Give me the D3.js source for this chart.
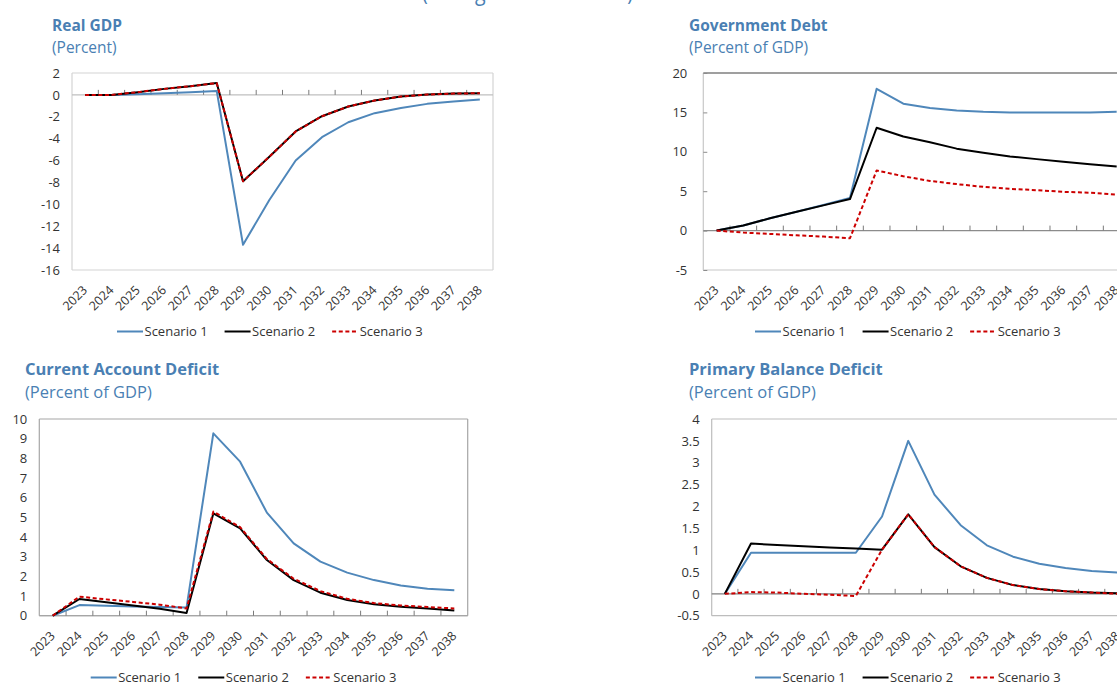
<!DOCTYPE html>
<html>
<head>
<meta charset="utf-8">
<script src="https://cdn.jsdelivr.net/npm/d3@7/dist/d3.min.js"></script>
<style>
  html, body { margin: 0; padding: 0; background: #fff; overflow: hidden; }
  svg { display: block; font-family: "Open Sans", "Noto Sans", sans-serif; }
</style>
</head>
<body>
<svg id="chart" width="1117" height="685"></svg>
<script>
// ---------------- DATA ----------------
const years = ["2023","2024","2025","2026","2027","2028","2029","2030","2031","2032","2033","2034","2035","2036","2037","2038"];
const seriesNames = ["Scenario 1", "Scenario 2", "Scenario 3"];
const pageTitle = "(Change from baseline)";

const gdpTitle = "Real GDP";
const gdpUnit = "(Percent)";
const gdpTicks = [-16, -14, -12, -10, -8, -6, -4, -2, 0, 2];
const gdpS1 = [0, 0, 0.05, 0.15, 0.25, 0.36, -13.7, -9.6, -6.0, -3.86, -2.5, -1.67, -1.2, -0.82, -0.6, -0.42];
const gdpS2 = [0, 0, 0.25, 0.55, 0.8, 1.08, -7.9, -5.65, -3.34, -1.95, -1.06, -0.52, -0.15, 0.03, 0.12, 0.15];
const gdpS3 = [0, 0, 0.25, 0.55, 0.8, 1.08, -7.9, -5.65, -3.34, -1.95, -1.06, -0.52, -0.15, 0.03, 0.12, 0.15];

const debtTitle = "Government Debt";
const debtUnit = "(Percent of GDP)";
const debtTicks = [-5, 0, 5, 10, 15, 20];
const debtS1 = [0, 0.64, 1.57, 2.4, 3.25, 4.15, 18.0, 16.1, 15.55, 15.25, 15.08, 15.0, 15.0, 15.0, 15.0, 15.08];
const debtS2 = [0, 0.64, 1.57, 2.4, 3.2, 4.0, 13.05, 11.95, 11.2, 10.4, 9.87, 9.4, 9.07, 8.73, 8.43, 8.14];
const debtS3 = [0, -0.25, -0.42, -0.6, -0.76, -0.97, 7.63, 6.9, 6.3, 5.9, 5.55, 5.3, 5.13, 4.92, 4.8, 4.58];

const caTitle = "Current Account Deficit";
const caUnit = "(Percent of GDP)";
const caTicks = [0, 1, 2, 3, 4, 5, 6, 7, 8, 9, 10];
const caS1 = [0, 0.54, 0.5, 0.47, 0.44, 0.42, 9.27, 7.83, 5.24, 3.68, 2.75, 2.19, 1.81, 1.54, 1.37, 1.29];
const caS2 = [0, 0.85, 0.68, 0.52, 0.35, 0.14, 5.2, 4.44, 2.83, 1.81, 1.17, 0.8, 0.58, 0.46, 0.36, 0.27];
const caS3 = [0, 0.97, 0.83, 0.7, 0.56, 0.37, 5.29, 4.5, 2.88, 1.88, 1.25, 0.86, 0.64, 0.52, 0.44, 0.37];

const pbTitle = "Primary Balance Deficit";
const pbUnit = "(Percent of GDP)";
const pbTicks = [-0.5, 0, 0.5, 1, 1.5, 2, 2.5, 3, 3.5, 4];
const pbS1 = [0, 0.94, 0.94, 0.94, 0.94, 0.94, 1.77, 3.5, 2.27, 1.57, 1.11, 0.85, 0.69, 0.59, 0.52, 0.49];
const pbS2 = [0, 1.15, 1.12, 1.09, 1.06, 1.04, 1.01, 1.82, 1.07, 0.63, 0.365, 0.2, 0.11, 0.06, 0.03, 0.015];
const pbS3 = [0, 0.04, 0.03, 0.0, -0.02, -0.05, 1.01, 1.82, 1.07, 0.63, 0.365, 0.2, 0.11, 0.06, 0.03, 0.0];

// ---------------- STYLE / LAYOUT ----------------
const titleColor = "#4a7fb3";
const seriesStyle = [
  { color: "#4f87ba", dash: null },
  { color: "#000000", dash: null },
  { color: "#cc0000", dash: "4,2.6" }
];

const panels = [
  { title: gdpTitle, unit: gdpUnit, ticks: gdpTicks, series: [gdpS1, gdpS2, gdpS3],
    left: 72, right: 493, top: 73, bottom: 270, titleX: 52, titleY: 30.5, unitY: 52.5, fs: 15.5,
    legendX: 117, legendY: 331.5, frame: ["#d4d4d4", "#d4d4d4", "#d4d4d4", "#d4d4d4"], zero: "#bfbfbf", yTickMarks: false },
  { title: debtTitle, unit: debtUnit, ticks: debtTicks, series: [debtS1, debtS2, debtS3],
    left: 703.3, right: 1130, top: 73, bottom: 270, titleX: 689, titleY: 30.5, unitY: 52.5, fs: 15.5,
    legendX: 755, legendY: 331.5, frame: ["#404040", "#c8c8c8", "#c8c8c8", "#c8c8c8"], zero: "#8c8c8c", yTickMarks: true },
  { title: caTitle, unit: caUnit, ticks: caTicks, series: [caS1, caS2, caS3],
    left: 39.3, right: 467.7, top: 419, bottom: 615.7, titleX: 25, titleY: 375, unitY: 397.5, fs: 16.5,
    legendX: 90.7, legendY: 677.5, frame: ["#a6a6a6", "#a6a6a6", "#a6a6a6", "#a6a6a6"], zero: "#a6a6a6", yTickMarks: false },
  { title: pbTitle, unit: pbUnit, ticks: pbTicks, series: [pbS1, pbS2, pbS3],
    left: 711.7, right: 1131, top: 419, bottom: 615.7, titleX: 689, titleY: 375, unitY: 397.5, fs: 16.5,
    legendX: 755, legendY: 677.5, frame: ["#bdbdbd", "#bdbdbd", "#bdbdbd", "#bdbdbd"], zero: "#7f7f7f", yTickMarks: false }
];

const svg = d3.select("#chart");

svg.append("text")
  .attr("x", 422).attr("y", 0)
  .attr("font-size", 24)
  .attr("textLength", 211).attr("lengthAdjust", "spacingAndGlyphs")
  .attr("fill", titleColor)
  .text(pageTitle);

panels.forEach(p => {
  const g = svg.append("g");
  const x = d3.scaleBand().domain(years).range([p.left, p.right]).paddingInner(0).paddingOuter(0);
  const y = d3.scaleLinear().domain([p.ticks[0], p.ticks[p.ticks.length - 1]]).range([p.bottom, p.top]);
  const cx = d => x(d) + x.bandwidth() / 2;

  // titles
  g.append("text").attr("x", p.titleX).attr("y", p.titleY)
    .attr("font-size", p.fs).attr("font-weight", 700).attr("fill", titleColor).text(p.title);
  g.append("text").attr("x", p.titleX).attr("y", p.unitY)
    .attr("font-size", p.fs).attr("fill", titleColor).text(p.unit);

  // frame: top, left, bottom, right
  const fr = [
    [p.left, p.top, p.right, p.top],
    [p.left, p.top, p.left, p.bottom],
    [p.left, p.bottom, p.right, p.bottom],
    [p.right, p.top, p.right, p.bottom]
  ];
  fr.forEach((c, i) => {
    g.append("line").attr("x1", c[0]).attr("y1", c[1]).attr("x2", c[2]).attr("y2", c[3])
      .attr("stroke", p.frame[i]).attr("stroke-width", 1.2);
  });

  // zero line and category tick marks
  const y0 = y(0);
  g.append("line").attr("x1", p.left).attr("x2", p.right).attr("y1", y0).attr("y2", y0)
    .attr("stroke", p.zero).attr("stroke-width", 1.2);
  g.selectAll(".ctick").data(years.slice(1)).enter().append("line")
    .attr("x1", d => x(d)).attr("x2", d => x(d))
    .attr("y1", y0).attr("y2", y0 - 5)
    .attr("stroke", "#7a7a7a").attr("stroke-width", 1);

  // y axis labels
  const ya = d3.axisLeft(y).tickValues(p.ticks).tickSize(p.yTickMarks ? -4 : 0).tickPadding(p.yTickMarks ? 16 : 12)
    .tickFormat(d => String(d));
  const yg = g.append("g").attr("transform", `translate(${p.left},0)`).call(ya);
  yg.select(".domain").remove();
  yg.selectAll(".tick line").attr("stroke", "#8c8c8c");
  yg.selectAll(".tick text").attr("font-size", 13).attr("fill", "#333").attr("font-family", "\"Open Sans\", sans-serif");

  // x labels
  g.selectAll(".xl").data(years).enter().append("text")
    .attr("transform", d => `translate(${cx(d) + 3},${p.bottom + 21}) rotate(-45)`)
    .attr("text-anchor", "end")
    .attr("font-size", 12.5).attr("fill", "#333")
    .text(d => d);

  // lines
  const line = d3.line().x((d, i) => cx(years[i])).y(d => y(d));
  p.series.forEach((s, i) => {
    g.append("path").datum(s).attr("d", line)
      .attr("fill", "none").attr("stroke", seriesStyle[i].color)
      .attr("stroke-width", 2)
      .attr("stroke-dasharray", seriesStyle[i].dash)
      .attr("stroke-linejoin", "round");
  });

  // legend
  let lx = p.legendX;
  seriesNames.forEach((name, i) => {
    g.append("line").attr("x1", lx).attr("x2", lx + 26).attr("y1", p.legendY).attr("y2", p.legendY)
      .attr("stroke", seriesStyle[i].color).attr("stroke-width", 2)
      .attr("stroke-dasharray", seriesStyle[i].dash);
    const t = g.append("text").attr("x", lx + 27.5).attr("y", p.legendY)
      .attr("dy", "0.35em").attr("font-size", 13).attr("fill", "#333").text(name);
    const w = t.node().getComputedTextLength();
    lx = lx + 27.5 + w + 17;
  });
});
</script>
</body>
</html>
